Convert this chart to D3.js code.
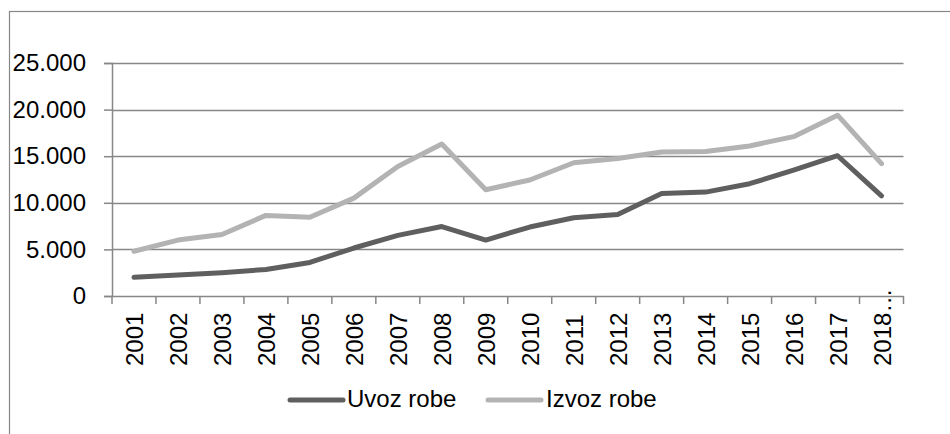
<!DOCTYPE html>
<html><head><meta charset="utf-8">
<script src="https://cdn.jsdelivr.net/npm/d3@7"></script>
<style>
html,body{margin:0;padding:0;background:#fff;}
svg{display:block;}
text{font-family:"Liberation Sans",Arial,sans-serif;fill:#000;}
</style></head>
<body>
<svg id="chart" width="950" height="434"></svg>
<script>
const categories = ["2001","2002","2003","2004","2005","2006","2007","2008","2009","2010","2011","2012","2013","2014","2015","2016","2017","2018…"];
const uvozRobe  = [2000,2250,2500,2850,3600,5150,6500,7450,6000,7400,8400,8750,11000,11150,12050,13500,15050,10750];
const izvozRobe = [4800,6000,6600,8650,8450,10500,13900,16300,11400,12450,14300,14750,15450,15500,16100,17100,19400,14200];
const yTicks = [0,5000,10000,15000,20000,25000];
const yTickLabels = ["0","5.000","10.000","15.000","20.000","25.000"];
const seriesNames = ["Uvoz robe","Izvoz robe"];
const seriesColors = ["#5f5f5f","#b3b3b3"];

(function(){
const svg = d3.select("#chart");
const axisColor = "#878787";
const pL = 112, pR = 903.5, pT = 63, pB = 296;

// outer frame
svg.append("rect").attr("x",9.5).attr("y",11.5).attr("width",980).attr("height",480)
  .attr("fill","none").attr("stroke",axisColor).attr("stroke-width",1.2);

const x = d3.scaleBand().domain(categories).range([pL,pR]).paddingInner(0).paddingOuter(0);
const y = d3.scaleLinear().domain([0,25000]).range([pB,pT]);

// gridlines
svg.append("g").selectAll("line").data(yTicks.filter(d=>d>0)).join("line")
  .attr("x1",pL).attr("x2",pR)
  .attr("y1",d=>Math.round(y(d))+0.5).attr("y2",d=>Math.round(y(d))+0.5)
  .attr("stroke",axisColor).attr("stroke-width",1.5);

// y axis
const yAxis = svg.append("g").attr("transform",`translate(${pL},0)`)
  .call(d3.axisLeft(y).tickValues(yTicks).tickFormat((d,i)=>yTickLabels[i]).tickSize(8).tickPadding(18));
yAxis.select(".domain").attr("stroke",axisColor).attr("stroke-width",1.5);
yAxis.selectAll(".tick line").attr("stroke",axisColor).attr("stroke-width",1.5);
yAxis.selectAll(".tick text").attr("font-size",24).attr("font-family","Liberation Sans, Arial, sans-serif").attr("fill","#000");

// x axis line
svg.append("line").attr("x1",pL).attr("x2",pR).attr("y1",pB+0.5).attr("y2",pB+0.5)
  .attr("stroke",axisColor).attr("stroke-width",1.5);
// x ticks at category boundaries
const bounds = categories.map(c=>x(c)).concat([pR]);
svg.append("g").selectAll("line").data(bounds).join("line")
  .attr("x1",d=>d).attr("x2",d=>d).attr("y1",pB).attr("y2",pB+8)
  .attr("stroke",axisColor).attr("stroke-width",1.5);

// x labels rotated
svg.append("g").selectAll("text").data(categories).join("text")
  .attr("transform",d=>`translate(${x(d)+x.bandwidth()/2+9},366) rotate(-90)`)
  .attr("text-anchor","start").attr("font-size",24).text(d=>d);

// lines
const line = d3.line().x((d,i)=>x(categories[i])+x.bandwidth()/2).y(d=>y(d));
[uvozRobe, izvozRobe].forEach((s,k)=>{
  svg.append("path").datum(s).attr("d",line).attr("fill","none")
    .attr("stroke",seriesColors[k]).attr("stroke-width",5)
    .attr("stroke-linejoin","round").attr("stroke-linecap","round");
});

// legend
const legendItems = [{x:290,tx:347},{x:488,tx:546}];
legendItems.forEach((p,k)=>{
  svg.append("line").attr("x1",p.x).attr("x2",p.x+53).attr("y1",400).attr("y2",400)
    .attr("stroke",seriesColors[k]).attr("stroke-width",5).attr("stroke-linecap","round");
  svg.append("text").attr("x",p.tx).attr("y",407).attr("font-size",24).text(seriesNames[k]);
});
})();
</script>
</body></html>
